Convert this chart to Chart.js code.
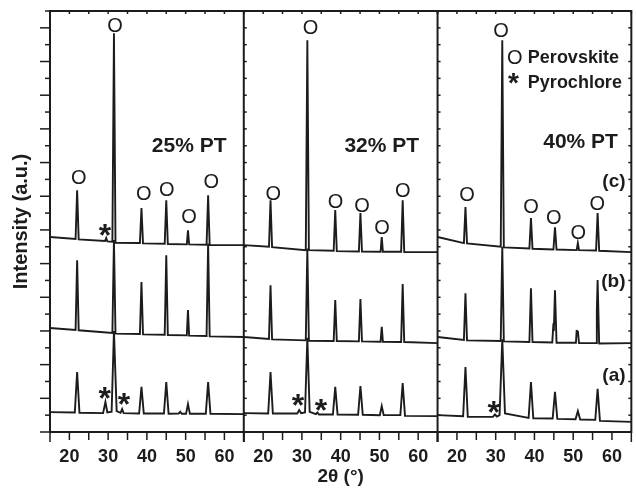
<!DOCTYPE html>
<html>
<head>
<meta charset="utf-8">
<script src="https://cdn.jsdelivr.net/npm/chart.js@4.4.0/dist/chart.umd.min.js"></script>
<style>
    html, body { margin: 0; padding: 0; background: #fff; }
    #wrap { width: 636px; height: 495px; }
</style>
</head>
<body>
<div id="wrap"><canvas id="xrd" width="636" height="495"></canvas></div>
<script>
// 2theta range shared by the three panels
const thetaMin = 15;
const thetaMax = 65;
const panelNames = ['25% PT', '32% PT', '40% PT'];
const traceNames = ['(a)', '(b)', '(c)'];
const xTickLabels = [20, 30, 40, 50, 60];

// [2theta, intensity], one list per trace
const pt25_a = [[15,0.59],[21.4,0.58],[22.0,1.78],[22.6,0.57],[28.7,0.56],[29.3,0.89],[29.8,0.58],[30.9,0.60],[31.5,3.0],[32.2,0.62],[33.2,0.57],[33.6,0.68],[34.0,0.56],[38.0,0.55],[38.6,1.34],[39.2,0.55],[44.4,0.55],[45.0,1.48],[45.6,0.54],[48.2,0.55],[48.6,0.60],[49.0,0.54],[50.1,0.54],[50.6,0.83],[51.1,0.54],[55.2,0.54],[55.8,1.48],[56.4,0.54],[65,0.53]];
const pt25_b = [[15,3.09],[21.6,3.03],[22.0,5.10],[22.4,3.02],[31.1,2.94],[31.5,5.70],[31.9,2.92],[38.2,2.91],[38.6,4.45],[39.0,2.90],[44.6,2.89],[45.0,5.25],[45.4,2.88],[50.3,2.87],[50.6,3.62],[50.9,2.86],[55.4,2.85],[55.8,5.60],[56.2,2.84],[65,2.82]];
const pt25_c = [[15,5.79],[21.6,5.73],[22.0,7.18],[22.4,5.72],[29.2,5.67],[29.5,5.76],[29.8,5.66],[31.1,5.65],[31.5,11.84],[31.9,5.62],[38.2,5.61],[38.6,6.65],[39.0,5.60],[44.6,5.59],[45.0,6.88],[45.4,5.58],[50.3,5.57],[50.6,5.99],[50.9,5.57],[55.4,5.56],[55.8,7.03],[56.2,5.55],[65,5.55]];

const pt32_a = [[15,0.56],[21.3,0.55],[21.9,1.78],[22.5,0.55],[28.8,0.55],[29.3,0.65],[29.8,0.56],[30.8,0.58],[31.4,2.8],[32.0,0.60],[33.6,0.53],[34.0,0.58],[34.4,0.52],[38.0,0.52],[38.6,1.34],[39.2,0.52],[44.5,0.51],[45.1,1.36],[45.7,0.51],[50.1,0.50],[50.6,0.77],[51.1,0.50],[55.4,0.50],[56.0,1.45],[56.6,0.48],[65,0.47]];
const pt32_b = [[15,2.82],[21.5,2.76],[21.9,4.36],[22.3,2.75],[31.0,2.72],[31.4,5.45],[31.8,2.71],[38.2,2.70],[38.6,3.92],[39.0,2.70],[44.7,2.69],[45.1,3.95],[45.5,2.69],[50.3,2.68],[50.6,3.12],[50.9,2.68],[55.6,2.67],[56.0,4.39],[56.4,2.67],[65,2.64]];
const pt32_c = [[15,5.55],[21.5,5.50],[21.9,6.88],[22.3,5.49],[31.0,5.40],[31.4,11.63],[31.8,5.40],[38.2,5.38],[38.6,6.59],[39.0,5.37],[44.7,5.36],[45.1,6.50],[45.5,5.36],[50.3,5.35],[50.6,5.79],[50.9,5.35],[55.6,5.35],[56.0,6.88],[56.4,5.34],[65,5.34]];

const pt40_a = [[15,0.50],[21.6,0.47],[22.2,1.93],[22.8,0.45],[29.3,0.45],[29.8,0.52],[30.3,0.46],[31.0,0.50],[31.7,2.75],[32.4,0.55],[38.5,0.42],[39.1,1.48],[39.7,0.41],[44.7,0.40],[45.3,1.19],[45.9,0.39],[50.6,0.38],[51.2,0.62],[51.8,0.37],[55.7,0.36],[56.3,1.28],[56.9,0.33],[65,0.30]];
const pt40_b = [[15,2.82],[21.8,2.73],[22.2,4.12],[22.6,2.72],[31.3,2.70],[31.7,5.5],[32.1,2.69],[38.7,2.67],[39.1,4.27],[39.5,2.67],[44.6,2.66],[44.9,3.23],[45.0,3.0],[45.3,4.21],[45.7,2.65],[50.7,2.65],[50.9,3.03],[51.0,2.9],[51.2,3.00],[51.5,2.64],[55.9,2.64],[56.1,3.62],[56.3,4.51],[56.7,2.63],[65,2.64]];
const pt40_c = [[15,5.79],[21.8,5.61],[22.2,6.68],[22.6,5.60],[31.3,5.50],[31.7,11.63],[32.1,5.48],[38.7,5.45],[39.1,6.35],[39.5,5.44],[44.9,5.42],[45.3,6.08],[45.7,5.42],[50.9,5.40],[51.2,5.61],[51.5,5.40],[55.9,5.39],[56.3,6.50],[56.7,5.38],[65,5.34]];

const panels = [
    [pt25_a, pt25_b, pt25_c],
    [pt32_a, pt32_b, pt32_c],
    [pt40_a, pt40_b, pt40_c]
];

// phase marks [panel, 2theta, intensity]
const perovskiteMarks = [
    [0,22.4,7.54],[0,31.8,12.05],[0,39.2,7.06],[0,45.1,7.18],[0,50.9,6.36],[0,56.6,7.40],
    [1,22.6,7.06],[1,32.2,11.97],[1,38.7,6.82],[1,45.5,6.71],[1,50.7,6.04],[1,56.0,7.15],
    [2,22.6,7.01],[2,31.4,11.9],[2,39.1,6.68],[2,45.0,6.34],[2,51.3,5.88],[2,56.2,6.77]
];
const pyrochloreMarks = [
    [0,29.2,6.05],[0,29.1,1.22],[0,34.1,1.02],
    [1,29.0,0.99],[1,34.9,0.84],
    [2,29.5,0.79]
];

const span = thetaMax - thetaMin;
const ink = '#1c1c1c';
const fontFamily = '"Liberation Sans", Arial, Helvetica, sans-serif';
Chart.defaults.font.family = fontFamily;
Chart.defaults.color = ink;

// one long x axis, each panel shifted by one span
const datasets = [];
panels.forEach((traces, p) => {
    traces.forEach((trace, t) => {
        datasets.push({
            label: panelNames[p] + ' ' + traceNames[t],
            data: trace.map(([x, y]) => ({ x: x + p * span, y: y })),
            borderColor: ink,
            borderWidth: 1.9,
            pointRadius: 0,
            tension: 0,
            fill: false
        });
    });
});

function line(ctx, x1, y1, x2, y2) {
    ctx.beginPath();
    ctx.moveTo(x1, y1);
    ctx.lineTo(x2, y2);
    ctx.stroke();
}

const framePlugin = {
    id: 'frame',
    afterDatasetsDraw(chart) {
        const ctx = chart.ctx;
        const a = chart.chartArea;
        const xs = chart.scales.x;
        const ys = chart.scales.y;
        const X = (p, v) => xs.getPixelForValue(v + p * span);
        const Y = v => ys.getPixelForValue(v);

        ctx.save();
        ctx.strokeStyle = ink;
        ctx.lineWidth = 2;
        ctx.strokeRect(a.left, a.top, a.right - a.left, a.bottom - a.top);

        // panel dividers with small inner ticks
        for (let p = 1; p < panels.length; p++) {
            const px = X(p, thetaMin);
            line(ctx, px, a.top, px, a.bottom + 10);
        }
        ctx.lineWidth = 1.5;
        for (let v = 0; v <= 12.5; v += 0.5) {
            const py = Y(v);
            line(ctx, a.left - (v % 1 === 0 ? 10 : 5), py, a.left, py);
            for (let p = 1; p < panels.length; p++) {
                const px = X(p, thetaMin);
                line(ctx, px, py, px + 3, py);
            }
            line(ctx, a.right - 3, py, a.right, py);
        }
        // x ticks every 5 degrees, bottom and top
        for (let p = 0; p < panels.length; p++) {
            for (let t = thetaMin; t <= thetaMax; t += 5) {
                const px = X(p, t);
                line(ctx, px, a.bottom, px, a.bottom + (t === thetaMin || t === thetaMax ? 10 : 8));
                line(ctx, px, a.top, px, a.top + 3);
            }
        }

        ctx.fillStyle = ink;
        ctx.textAlign = 'center';
        ctx.textBaseline = 'middle';
        ctx.font = '20px ' + fontFamily;
        perovskiteMarks.forEach(([p, t, v]) => ctx.fillText('O', X(p, t), Y(v)));

        ctx.font = 'bold 32px ' + fontFamily;
        ctx.textBaseline = 'alphabetic';
        pyrochloreMarks.forEach(([p, t, v]) => ctx.fillText('*', X(p, t), Y(v) + 0.555 * 32));

        // panel titles
        ctx.font = 'bold 21px ' + fontFamily;
        ctx.textBaseline = 'middle';
        ctx.fillText(panelNames[0], X(0, 50.9), Y(8.49));
        ctx.fillText(panelNames[1], X(1, 50.6), Y(8.50));
        ctx.fillText(panelNames[2], X(2, 51.9), Y(8.61));

        // trace letters on the last panel
        ctx.font = 'bold 19px ' + fontFamily;
        ctx.textAlign = 'right';
        const traceLabelY = [1.66, 4.46, 7.43];
        traceNames.forEach((name, t) => ctx.fillText(name, X(2, 63.5), Y(traceLabelY[t])));

        // legend
        ctx.textAlign = 'center';
        ctx.font = '20px ' + fontFamily;
        ctx.fillText('O', X(2, 34.9), Y(11.1));
        ctx.font = 'bold 28px ' + fontFamily;
        ctx.textBaseline = 'alphabetic';
        ctx.fillText('*', X(2, 34.6), Y(10.55) + 0.555 * 28);
        ctx.textAlign = 'left';
        ctx.textBaseline = 'middle';
        ctx.font = 'bold 18px ' + fontFamily;
        ctx.fillText('Perovskite', X(2, 38.3), Y(11.1));
        ctx.fillText('Pyrochlore', X(2, 38.3), Y(10.36));
        ctx.restore();
    }
};

new Chart(document.getElementById('xrd'), {
    type: 'line',
    data: { datasets: datasets },
    options: {
        responsive: false,
        animation: false,
        devicePixelRatio: 1,
        layout: { padding: { top: 11, right: 1, left: 0, bottom: 0 } },
        plugins: {
            legend: { display: false },
            tooltip: { enabled: false }
        },
        scales: {
            x: {
                type: 'linear',
                min: thetaMin,
                max: thetaMin + span * panels.length,
                afterBuildTicks: scale => {
                    const ticks = [];
                    for (let p = 0; p < panels.length; p++) {
                        xTickLabels.forEach(v => ticks.push({ value: v + p * span }));
                    }
                    scale.ticks = ticks;
                },
                afterFit: scale => { scale.height = 63; },
                grid: { display: false, drawTicks: false },
                border: { display: false },
                ticks: {
                    padding: 14,
                    maxRotation: 0,
                    autoSkip: false,
                    color: ink,
                    font: { size: 18, weight: 'bold' },
                    callback: v => ((v - thetaMin) % span) + thetaMin
                },
                title: {
                    display: true,
                    text: '2θ (°)',
                    color: ink,
                    font: { size: 19, weight: 'bold' },
                    padding: { top: 0, bottom: 7 }
                }
            },
            y: {
                min: 0,
                max: 12.5,
                afterFit: scale => { scale.width = 50; },
                grid: { display: false, drawTicks: false },
                border: { display: false },
                ticks: { display: false },
                title: {
                    display: true,
                    text: 'Intensity (a.u.)',
                    color: ink,
                    font: { size: 20, weight: 'bold' },
                    padding: { top: 9, bottom: 0 }
                }
            }
        }
    },
    plugins: [framePlugin]
});
</script>
</body>
</html>
